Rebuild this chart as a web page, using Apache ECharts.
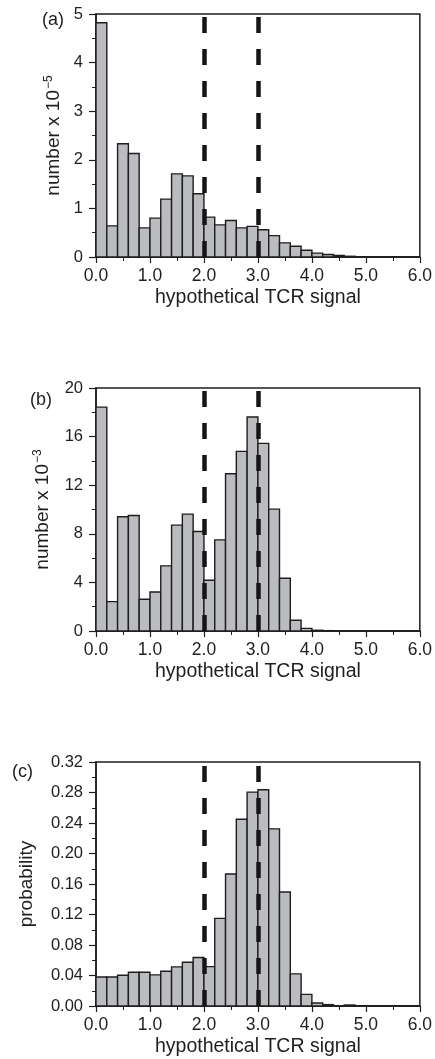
<!DOCTYPE html>
<html>
<head>
<meta charset="utf-8">
<script src="https://cdn.jsdelivr.net/npm/echarts@6/dist/echarts.min.js"></script>
<style>
html,body{margin:0;padding:0;background:#fff;}
#chart{width:435px;height:1059px;}
</style>
</head>
<body>
<div id="chart"></div>
<script>
// Bin edges: 30 bins of width 0.2 from 0.0 to 6.0
var binStarts = [0.0,0.2,0.4,0.6,0.8,1.0,1.2,1.4,1.6,1.8,2.0,2.2,2.4,2.6,2.8,3.0,3.2,3.4,3.6,3.8,4.0,4.2,4.4,4.6,4.8,5.0,5.2,5.4,5.6,5.8];
var binWidth = 0.2;

// Panel (a): number x 10^-5
var valuesA = [4.82,0.64,2.33,2.13,0.60,0.80,1.19,1.71,1.67,1.30,0.82,0.66,0.75,0.60,0.63,0.56,0.44,0.29,0.22,0.14,0.08,0.05,0.03,0.015,0.006,0.003,0.001,0,0,0];
// Panel (b): number x 10^-3
var valuesB = [18.43,2.42,9.40,9.51,2.61,3.21,5.36,8.71,9.62,8.19,4.18,7.50,12.94,14.78,17.61,15.44,10.03,4.34,0.88,0.22,0.06,0.03,0.02,0.01,0.005,0,0,0,0,0];
// Panel (c): probability
var valuesC = [0.0381,0.0380,0.0403,0.0443,0.0443,0.0408,0.0456,0.0513,0.0574,0.0636,0.0517,0.1149,0.1732,0.2450,0.2805,0.2836,0.2323,0.1495,0.0421,0.0153,0.0039,0.0018,0.0004,0.0013,0.0004,0,0,0,0,0];

var thresholds = [2.0, 3.0];
var panelLabels = ['(a)','(b)','(c)'];
var yNames = ['{n|number x 10}{s|−5}','{n|number x 10}{s|−3}','{n|probability}'];
var yMax = [5, 20, 0.32];
var yInterval = [1, 4, 0.04];
var yDecimals = [0, 0, 2];

var FONT = 'Liberation Sans, Arial, Helvetica, sans-serif';
var INK = '#1e1e1e';

var chart = echarts.init(document.getElementById('chart'), null, {renderer:'canvas'});

var gridTops = [14, 388, 762];
var gridH = [243, 243, 244];
var yNameGaps = [30, 42, 60];

function makeData(vals){
  return vals.map(function(v,i){ return [binStarts[i], binStarts[i]+binWidth, v]; });
}

var grids = [], xAxes = [], yAxes = [], series = [], titles = [];
var allVals = [valuesA, valuesB, valuesC];
for (var p=0; p<3; p++){
  grids.push({left:96, top:gridTops[p], width:324, height:gridH[p], show:true, borderColor:INK, borderWidth:1.5, backgroundColor:'transparent'});
  xAxes.push({
    type:'value', gridIndex:p, min:0, max:6, interval:1,
    name:'hypothetical TCR signal', nameLocation:'middle', nameGap:31,
    nameTextStyle:{fontFamily:FONT, fontSize:19.5, color:INK},
    axisLine:{show:true, onZero:false, lineStyle:{color:INK, width:1.5}},
    axisTick:{show:true, inside:false, length:6, lineStyle:{color:INK, width:1.2}},
    minorTick:{show:true, splitNumber:2, length:4, lineStyle:{color:INK, width:1}},
    splitLine:{show:false},
    axisLabel:{fontFamily:FONT, fontSize:17.5, color:INK, margin:10, formatter:function(v){return v.toFixed(1);}}
  });
  (function(dec){
  yAxes.push({
    type:'value', gridIndex:p, min:0, max:yMax[p], interval:yInterval[p],
    name:yNames[p], nameLocation:'middle', nameGap:yNameGaps[p], nameRotate:90,
    nameTextStyle:{fontFamily:FONT, fontSize:19, color:INK,
      rich:{n:{fontFamily:FONT, fontSize:19, color:INK}, s:{fontFamily:FONT, fontSize:12, color:INK, padding:[0,0,10,1]}}},
    axisLine:{show:true, lineStyle:{color:INK, width:1.5}},
    axisTick:{show:true, inside:false, length:7, lineStyle:{color:INK, width:1.2}},
    minorTick:{show:true, splitNumber:2, length:4, lineStyle:{color:INK, width:1}},
    splitLine:{show:false},
    axisLabel:{fontFamily:FONT, fontSize:16.5, color:INK, margin:13, formatter:function(v){return v.toFixed(dec);}}
  });
  })(yDecimals[p]);
  series.push({
    type:'custom', xAxisIndex:p, yAxisIndex:p, silent:true,
    data: makeData(allVals[p]),
    encode:{x:[0,1], y:2},
    renderItem:function(params, api){
      var x0 = api.value(0), x1 = api.value(1), y = api.value(2);
      var a = api.coord([x0, y]);
      var b = api.coord([x1, 0]);
      return {
        type:'rect',
        shape:{x:a[0], y:a[1], width:b[0]-a[0], height:b[1]-a[1]},
        style:{fill:'#bbbcc0', stroke:INK, lineWidth:1.4}
      };
    },
    markLine:{
      silent:true, symbol:['none','none'], animation:false,
      label:{show:false},
      lineStyle:{color:'#151515', width:4.5, type:[16,16]},
      data: thresholds.map(function(t){ return {xAxis:t}; })
    },
    z:2
  });
  titles.push({text:panelLabels[p], padding:0, textStyle:{fontFamily:FONT, fontSize:18, fontWeight:'normal', color:INK}});
}
titles[0].left = 42; titles[0].top = 11;
titles[1].left = 30; titles[1].top = 391;
titles[2].left = 12; titles[2].top = 763;

chart.setOption({
  animation:false,
  backgroundColor:'#ffffff',
  title: titles,
  grid: grids,
  xAxis: xAxes,
  yAxis: yAxes,
  series: series
});
</script>
</body>
</html>
